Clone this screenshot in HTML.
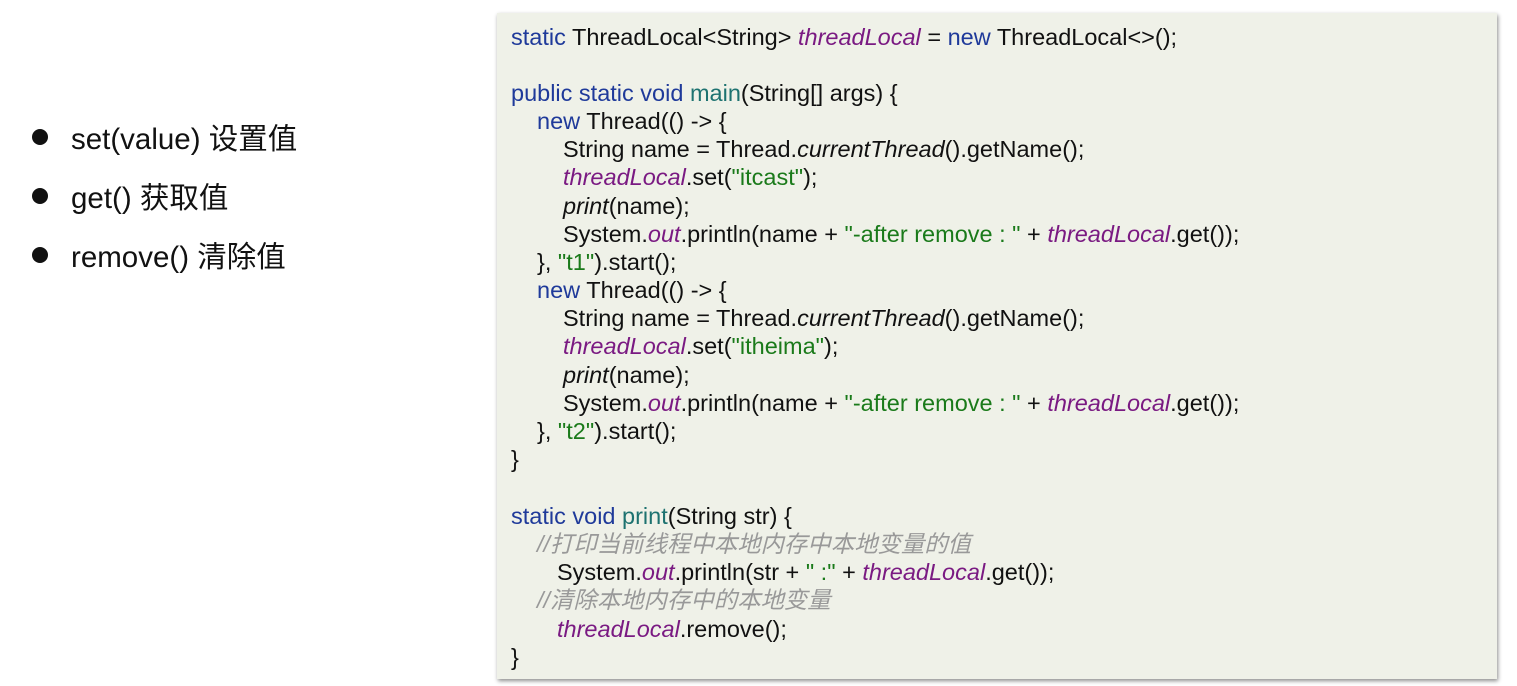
<!DOCTYPE html>
<html><head><meta charset="utf-8"><style>
body{margin:0;width:1517px;height:686px;background:#fff;position:relative;overflow:hidden;font-family:"Liberation Sans","Noto Sans CJK SC",sans-serif}
.b{position:absolute;left:30px;font-size:29.5px;color:#111}
.b:before{content:"";position:absolute;left:2px;top:13px;width:16px;height:16px;border-radius:50%;background:#111}
.b span{margin-left:41px}
.box{position:absolute;left:497px;top:13px;width:1000px;height:666px;background:#eff1e8;box-shadow:1px 2px 4px rgba(0,0,0,.45)}
.l{position:absolute;font-size:23.5px;color:#111;white-space:pre;line-height:28px}
.k{color:#1f3a9a}.m{color:#1d7270}.v{color:#7a1a82;font-style:italic}.s{color:#1a7a1a}.o{font-style:italic}.c{color:#999;font-style:italic;font-size:23.4px}
</style></head><body>
<div class="b" style="top:116px"><span>set(value) 设置值</span></div>
<div class="b" style="top:175px"><span>get() 获取值</span></div>
<div class="b" style="top:234px"><span>remove() 清除值</span></div>
<div class="box"></div>
<div class="l" style="left:511px;top:23px"><span class="k">static</span> ThreadLocal&lt;String&gt; <span class="v">threadLocal</span> = <span class="k">new</span> ThreadLocal&lt;&gt;();</div>
<div class="l" style="left:511px;top:79px"><span class="k">public static void</span> <span class="m">main</span>(String[] args) {</div>
<div class="l" style="left:537px;top:107px"><span class="k">new</span> Thread(() -&gt; {</div>
<div class="l" style="left:563px;top:135px">String name = Thread.<span class="o">currentThread</span>().getName();</div>
<div class="l" style="left:563px;top:163px"><span class="v">threadLocal</span>.set(<span class="s">"itcast"</span>);</div>
<div class="l" style="left:563px;top:192px"><span class="o">print</span>(name);</div>
<div class="l" style="left:563px;top:220px">System.<span class="v">out</span>.println(name + <span class="s">"-after remove : "</span> + <span class="v">threadLocal</span>.get());</div>
<div class="l" style="left:537px;top:248px">}, <span class="s">"t1"</span>).start();</div>
<div class="l" style="left:537px;top:276px"><span class="k">new</span> Thread(() -&gt; {</div>
<div class="l" style="left:563px;top:304px">String name = Thread.<span class="o">currentThread</span>().getName();</div>
<div class="l" style="left:563px;top:332px"><span class="v">threadLocal</span>.set(<span class="s">"itheima"</span>);</div>
<div class="l" style="left:563px;top:361px"><span class="o">print</span>(name);</div>
<div class="l" style="left:563px;top:389px">System.<span class="v">out</span>.println(name + <span class="s">"-after remove : "</span> + <span class="v">threadLocal</span>.get());</div>
<div class="l" style="left:537px;top:417px">}, <span class="s">"t2"</span>).start();</div>
<div class="l" style="left:511px;top:445px">}</div>
<div class="l" style="left:511px;top:502px"><span class="k">static void</span> <span class="m">print</span>(String str) {</div>
<div class="l c" style="left:537px;top:530px">//打印当前线程中本地内存中本地变量的值</div>
<div class="l" style="left:557px;top:558px">System.<span class="v">out</span>.println(str + <span class="s">" :"</span> + <span class="v">threadLocal</span>.get());</div>
<div class="l c" style="left:537px;top:586px">//清除本地内存中的本地变量</div>
<div class="l" style="left:557px;top:615px"><span class="v">threadLocal</span>.remove();</div>
<div class="l" style="left:511px;top:643px">}</div>
</body></html>
